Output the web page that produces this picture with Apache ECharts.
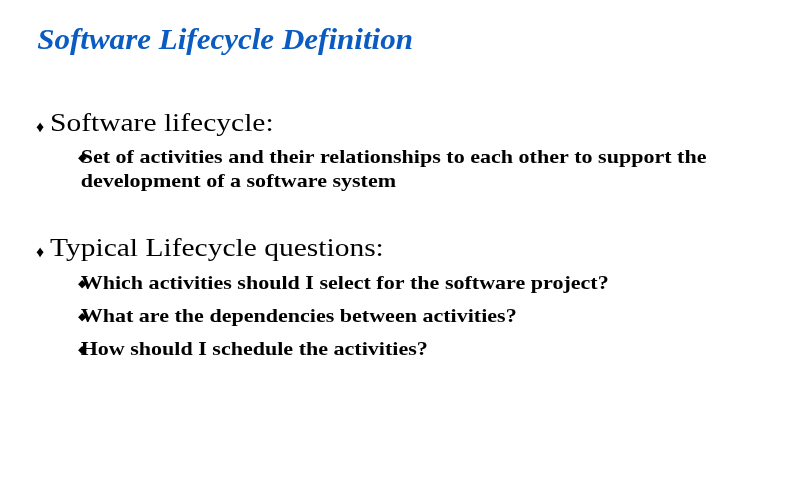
<!DOCTYPE html>
<html><head><meta charset="utf-8">
<script src="https://cdn.jsdelivr.net/npm/echarts@6/dist/echarts.min.js"></script>
<style>html,body{margin:0;padding:0;background:#fff}#c{width:791px;height:503px}</style>
</head><body><div id="c"></div>
<script>
var titleText = "Software Lifecycle Definition";
var mainBullets = ["Software lifecycle:", "Typical Lifecycle questions:"];
var subBullets1 = ["Set of activities and their relationships to each other to support the", "development of a software system"];
var subBullets2 = ["Which activities should I select for the software project?", "What are the dependencies between activities?", "How should I schedule the activities?"];

var F = '"Liberation Serif","Times New Roman",serif';
var g = [];
g.push({type:'text', x:40, y:42, scaleX:1.07, originX:40, originY:42, style:{text:titleText, font:'bold italic 29px '+F, fill:'#0a5cc2', textVerticalAlign:'middle'}});
function main(t, y){
  g.push({type:'text', x:36, y:y+4, style:{text:'\u2666', font:'16px '+F, fill:'#000', textVerticalAlign:'middle'}});
  g.push({type:'text', x:61, y:y, scaleX:1.18, originX:61, originY:y, style:{text:t, font:'25px '+F, fill:'#000', textVerticalAlign:'middle'}});
}
function sub(t, y, bullet){
  if (bullet) g.push({type:'text', x:78, y:y, style:{text:'\u25C6', font:'11px "DejaVu Sans"', fill:'#000', textVerticalAlign:'middle'}});
  g.push({type:'text', x:96, y:y, scaleX:1.16, originX:96, originY:y, style:{text:t, font:'bold 19px '+F, fill:'#000', textVerticalAlign:'middle'}});
}
main(mainBullets[0], 124);
sub(subBullets1[0], 158, true);
sub(subBullets1[1], 182, false);
main(mainBullets[1], 249);
subBullets2.forEach(function(t,i){ sub(t, 284 + i*33, true); });
var chart = echarts.init(document.getElementById('c'));
chart.setOption({animation:false, graphic:g});
</script></body></html>
